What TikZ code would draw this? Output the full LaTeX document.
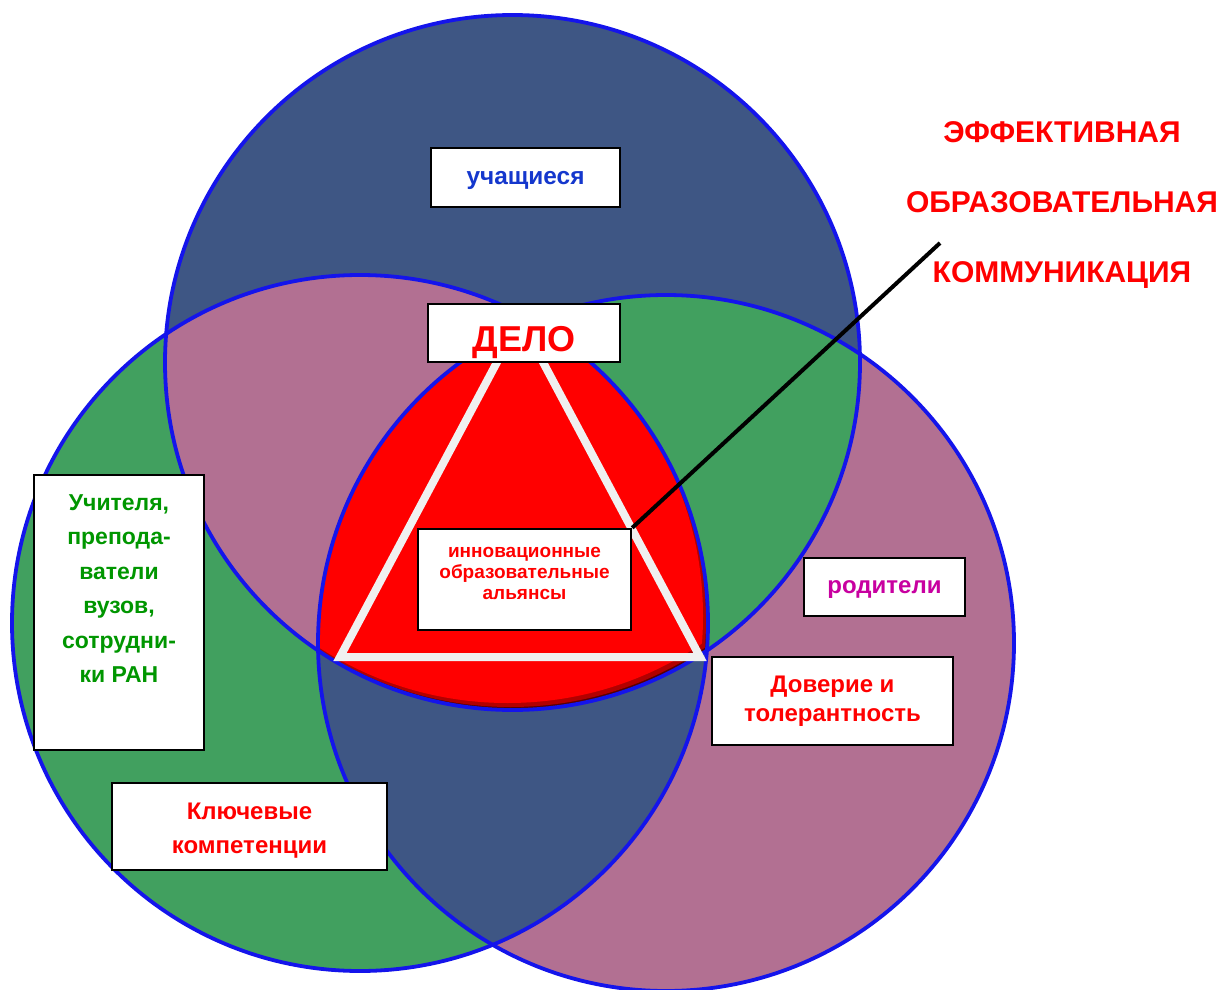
\documentclass[tikz,border=0pt]{standalone}
\usepackage{fontspec}
\setmainfont{Liberation Sans}
\definecolor{cTop}{RGB}{62,86,132}
\definecolor{cLeft}{RGB}{65,160,95}
\definecolor{cRight}{RGB}{178,112,146}
\definecolor{cRing}{RGB}{20,20,235}
\definecolor{cStud}{RGB}{20,55,205}
\definecolor{cGreenTxt}{RGB}{0,150,0}
\definecolor{cMag}{RGB}{200,0,160}
\definecolor{cTri}{RGB}{240,240,240}
\begin{document}
\begin{tikzpicture}[x=0.5pt,y=-0.5pt,
  box/.style={draw=black,line width=1.2pt,fill=white,inner sep=0pt,align=center},
  ring/.style={draw=cRing,line width=1.9pt},
]
\useasboundingbox (0,0) rectangle (1221,990);
\def\CT{(512.5,362.5) circle[radius=173.75pt]}
\def\CL{(360,623) circle[radius=174pt]}
\def\CR{(666,643) circle[radius=174pt]}
% single regions
\fill[cTop] \CT;
\fill[cLeft] \CL;
\fill[cRight] \CR;
% pairwise intersections
\begin{scope}\clip \CT; \fill[cRight] \CL; \end{scope}
\begin{scope}\clip \CT; \fill[cLeft] \CR; \end{scope}
\begin{scope}\clip \CL; \fill[cTop] \CR; \end{scope}
% triple intersection (red with inner shadow)
\begin{scope}
  \clip \CT; \clip \CL; \clip \CR;
  \fill[red!35!black] \CR;
  \begin{scope}[shift={(-2,-3)}]\clip \CT; \clip \CL; \fill[red!70!black] \CR;\end{scope}
  \begin{scope}[shift={(-5,-7)}]\clip \CT; \clip \CL; \fill[red] \CR;\end{scope}
\end{scope}
% outlines
\draw[ring] \CT;
\draw[ring] \CL;
\draw[ring] \CR;
% triangle
\coordinate (tA) at (520,319);
\coordinate (tB) at (340,657);
\coordinate (tC) at (700,657);
\draw[cTri,line width=4pt,line join=miter] (tA) -- (tB) -- (tC) -- cycle;
% boxes
\node[box,minimum width=94.5pt,minimum height=29.5pt,text=cStud,text depth=0pt,
  font=\bfseries\fontsize{12.2pt}{14pt}\selectfont] (stud) at (525.5,177.5) {учащиеся};
\node[box,minimum width=96pt,minimum height=29pt,text=red,text height=18.4pt,text depth=0pt,
  font=\bfseries\fontsize{18pt}{20pt}\selectfont] (delo) at (524,333) {ДЕЛО};
\node[box,minimum width=106.5pt,minimum height=50.5pt,text=red,
  font=\bfseries\fontsize{9.5pt}{10.5pt}\selectfont] (inno) at (524.5,579.5)
  {инновационные\\образовательные\\альянсы\rule[-6.5pt]{0pt}{6.5pt}};
\node[box,minimum width=85pt,minimum height=137.5pt,text=cGreenTxt,
  font=\bfseries\fontsize{11.5pt}{17.25pt}\selectfont] (teach) at (119,612.5)
  {Учителя,\\препода-\\ватели\\вузов,\\сотрудни-\\ки РАН\rule[-24pt]{0pt}{24pt}};
\node[box,minimum width=80.5pt,minimum height=29pt,text=cMag,text depth=0pt,
  font=\bfseries\fontsize{12pt}{14pt}\selectfont] (par) at (884.5,587) {родители};
\node[box,minimum width=120.5pt,minimum height=44pt,text=red,
  font=\bfseries\fontsize{12pt}{14.5pt}\selectfont] (trust) at (832.5,701)
  {Доверие и\\толерантность};
\node[box,minimum width=137.5pt,minimum height=43.5pt,text=red,
  font=\bfseries\fontsize{12pt}{17pt}\selectfont] (key) at (249.5,826.5)
  {\rule{0pt}{12pt}Ключевые\\компетенции};
% title
\node[text=red,align=center,inner sep=0pt,
  font=\bfseries\fontsize{15pt}{35pt}\selectfont] (title) at (1062,205)
  {ЭФФЕКТИВНАЯ\\ОБРАЗОВАТЕЛЬНАЯ\\КОММУНИКАЦИЯ};
% pointer line
\coordinate (lineEnd) at (940,243);
\draw[black,line width=2pt] (lineEnd) -- (inno.north east);
\end{tikzpicture}
\end{document}
